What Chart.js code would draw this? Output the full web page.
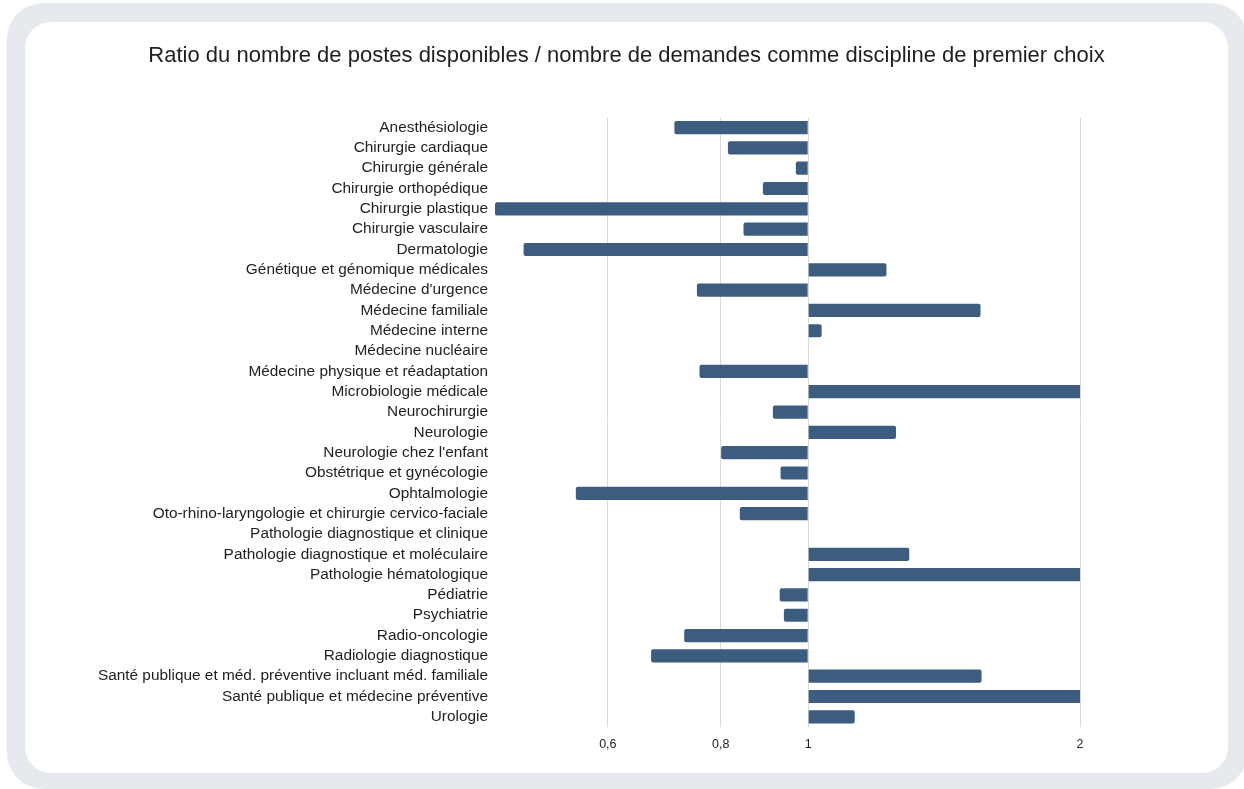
<!DOCTYPE html>
<html lang="fr">
<head>
<meta charset="utf-8">
<title>Ratio postes / demandes</title>
<script src="https://cdn.jsdelivr.net/npm/chart.js@4.4.1/dist/chart.umd.min.js"></script>
<style>
  html, body { margin: 0; padding: 0; background: #fff; }
  body { width: 1244px; height: 789px; position: relative; overflow: hidden; }
  .frame {
    position: absolute; left: 7px; top: 3px; width: 1240px; height: 786px;
    background: #e6e9ee; border-radius: 36px;
  }
  .card {
    position: absolute; left: 25px; top: 22px; width: 1203px; height: 751px;
    background: #fff; border-radius: 26px;
  }
  .card canvas { display: block; }
</style>
</head>
<body>
<div class="frame"></div>
<div class="card"><canvas id="ratioChart"></canvas></div>
<script>
  // Disciplines (axe vertical)
  const disciplines = [
    'Anesthésiologie',
    'Chirurgie cardiaque',
    'Chirurgie générale',
    'Chirurgie orthopédique',
    'Chirurgie plastique',
    'Chirurgie vasculaire',
    'Dermatologie',
    'Génétique et génomique médicales',
    "Médecine d'urgence",
    'Médecine familiale',
    'Médecine interne',
    'Médecine nucléaire',
    'Médecine physique et réadaptation',
    'Microbiologie médicale',
    'Neurochirurgie',
    'Neurologie',
    "Neurologie chez l'enfant",
    'Obstétrique et gynécologie',
    'Ophtalmologie',
    'Oto-rhino-laryngologie et chirurgie cervico-faciale',
    'Pathologie diagnostique et clinique',
    'Pathologie diagnostique et moléculaire',
    'Pathologie hématologique',
    'Pédiatrie',
    'Psychiatrie',
    'Radio-oncologie',
    'Radiologie diagnostique',
    'Santé publique et méd. préventive incluant méd. familiale',
    'Santé publique et médecine préventive',
    'Urologie'
  ];

  // Ratio postes / demandes (null = pas de barre, 3 = au-delà du max de l'axe)
  const ratios = [
    0.711, 0.815, 0.969, 0.891, 0.45, 0.848, 0.484, 1.221, 0.753, 1.552,
    1.035, null, 0.758, 3, 0.914, 1.251, 0.801, 0.932, 0.553, 0.840,
    null, 1.294, 3, 0.930, 0.940, 0.729, 0.670, 1.556, 3, 1.126
  ];

  // Graduations de l'axe horizontal (échelle logarithmique)
  const tickValues = [0.6, 0.8, 1, 2];
  const axisMin = 0.45;
  const axisMax = 2;
  const baseRatio = 1;

  Chart.defaults.font.family = "'Liberation Sans', Arial, sans-serif";

  const ctx = document.getElementById('ratioChart').getContext('2d');
  const ratioChart = new Chart(ctx, {
    type: 'bar',
    data: {
      labels: disciplines,
      datasets: [{
        label: 'Ratio',
        data: ratios,
        base: baseRatio,
        backgroundColor: '#3c5d80',
        borderRadius: 2,
        borderSkipped: 'start',
        categoryPercentage: 1,
        barPercentage: 0.65
      }]
    },
    options: {
      indexAxis: 'y',
      responsive: true,
      maintainAspectRatio: false,
      animation: false,
      layout: {
        padding: { left: 0, right: 0, top: 0, bottom: 11 }
      },
      plugins: {
        legend: { display: false },
        tooltip: { enabled: true },
        title: {
          display: true,
          text: 'Ratio du nombre de postes disponibles / nombre de demandes comme discipline de premier choix',
          color: '#1f1f1f',
          font: { size: 22, weight: 'normal' },
          padding: { top: 21, bottom: 48 }
        }
      },
      scales: {
        x: {
          type: 'logarithmic',
          min: axisMin,
          max: axisMax,
          afterBuildTicks: (scale) => {
            scale.ticks = tickValues.map(v => ({ value: v }));
          },
          ticks: {
            autoSkip: false,
            maxRotation: 0,
            padding: 10,
            color: '#222',
            font: { size: 12.5 },
            callback: (value) => String(value).replace('.', ',')
          },
          grid: {
            color: '#d9d9d9',
            drawTicks: false
          },
          border: { display: false }
        },
        y: {
          type: 'category',
          afterFit: (scale) => {
            scale.width = 470;
          },
          ticks: {
            autoSkip: false,
            padding: 7,
            color: '#1f1f1f',
            font: { size: 15.4 }
          },
          grid: { display: false, drawTicks: false },
          border: { display: false }
        },
        // axe vide à droite : réserve la marge sans décentrer le titre
        yRight: {
          type: 'category',
          position: 'right',
          afterFit: (scale) => {
            scale.width = 148;
          },
          ticks: { display: false },
          grid: { display: false, drawTicks: false },
          border: { display: false }
        }
      }
    }
  });
</script>
</body>
</html>
